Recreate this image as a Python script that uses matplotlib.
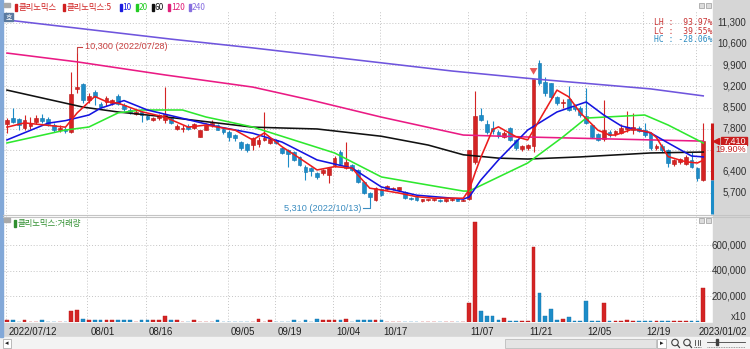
import numpy as np
import matplotlib
matplotlib.use('Agg')
import matplotlib.pyplot as plt
from matplotlib.patches import Rectangle, Ellipse
from matplotlib.lines import Line2D
from matplotlib.transforms import blended_transform_factory, ScaledTranslation

# ---- daily candles (index 0 = 2022/07/12) ----
opens = [7960, 8170, 8120, 7820, 7900, 8020, 8150, 8120, 7930, 7780,
         7800, 7710, 9120, 9280, 8750, 9030, 8620, 8700, 8650, 8890,
         8590, 8430, 8300, 8370, 8230, 8100, 8150, 8100, 8150, 7800,
         7790, 7900, 7830, 7550, 7770, 7930, 7930, 7800, 7710, 7600,
         7380, 7300, 7270, 7300, 7450, 7350, 7440, 7170, 7100, 7050,
         6890, 6560, 6500, 6340, 6340, 6280, 6610, 7050, 6510, 6610,
         6450, 6060, 5680, 5460, 5810, 5810, 5810, 5800, 5740, 5520,
         5560, 5430, 5450, 5460, 5460, 5420, 5460, 5520, 5440, 5480,
         6700, 8260, 7960, 7820, 7710, 7545, 7840, 7440, 7130, 7160,
         7240, 9980, 9360, 9300, 8860, 8660, 8780, 8560, 8500, 8220,
         7930, 7630, 7460, 7700, 7630, 7660, 7800, 7780, 7840, 7750,
         7660, 7180, 7250, 7110, 6650, 6700, 6650, 6780, 6500, 6120]
highs = [8150, 8500, 8150, 8260, 8200, 8250, 8300, 8180, 7990, 7930,
         7850, 9690, 10300, 9320, 9000, 9080, 8700, 8900, 8800, 8950,
         8650, 8480, 8420, 8400, 8260, 8200, 8300, 9190, 8200, 7950,
         7930, 7950, 8000, 7780, 8000, 8080, 7960, 7830, 7750, 7650,
         7420, 7350, 7520, 7550, 8370, 7520, 7480, 7200, 7150, 7080,
         6920, 6600, 6550, 6380, 6480, 6520, 6900, 7100, 7380, 6650,
         6480, 6100, 5720, 5900, 5850, 5950, 5900, 5900, 5760, 5550,
         5580, 5510, 5510, 5500, 5480, 5500, 5520, 5540, 5500, 7110,
         9060, 8480, 8100, 8050, 7760, 7720, 7880, 7480, 7260, 7300,
         9450, 10070, 9500, 9330, 8900, 8800, 9200, 8620, 8550, 9140,
         7980, 7680, 8750, 7750, 7780, 7950, 8400, 8320, 7900, 8000,
         7700, 7300, 7300, 7150, 6800, 6850, 6950, 7050, 6550, 7985]
lows = [7660, 7990, 7760, 7760, 7800, 7950, 8000, 7900, 7700, 7700,
        7660, 7660, 9000, 8650, 8650, 8590, 8480, 8550, 8600, 8600,
        8400, 8300, 8250, 8040, 8080, 8050, 8100, 8000, 7950, 7750,
        7700, 7780, 7800, 7520, 7750, 7880, 7750, 7650, 7400, 7400,
        7100, 7050, 7110, 7200, 7400, 7300, 7300, 6980, 6560, 6750,
        6580, 6120, 6250, 6150, 6300, 6010, 6550, 6600, 6480, 6400,
        6020, 5650, 5310, 5420, 5580, 5780, 5780, 5770, 5500, 5460,
        5430, 5410, 5430, 5440, 5400, 5400, 5440, 5420, 5420, 5450,
        6650, 8060, 7650, 7650, 7500, 7500, 7400, 7100, 7080, 7100,
        7050, 9250, 8900, 8800, 8600, 8480, 8380, 8400, 8200, 7950,
        7500, 7400, 7400, 7550, 7580, 7620, 7700, 7650, 7700, 7550,
        7100, 7100, 7050, 6550, 6580, 6650, 6600, 6500, 6100, 6100]
closes = [8095, 8020, 7930, 8095, 8000, 8150, 8070, 7960, 7760, 7820,
          7740, 8950, 9190, 8755, 8900, 8860, 8510, 8810, 8760, 8620,
          8450, 8350, 8370, 8260, 8120, 8160, 8260, 8290, 7990, 7900,
          7830, 7800, 7950, 7760, 7930, 8000, 7770, 7700, 7545, 7500,
          7160, 7100, 7490, 7450, 7500, 7480, 7340, 7010, 6990, 6780,
          6610, 6390, 6400, 6210, 6440, 6500, 6830, 6650, 6720, 6450,
          6060, 5680, 5570, 5850, 5620, 5920, 5870, 5880, 5520, 5480,
          5460, 5490, 5490, 5480, 5420, 5480, 5500, 5440, 5470, 7110,
          8230, 8100, 7710, 7740, 7570, 7680, 7440, 7160, 7240, 7270,
          9440, 9320, 8975, 8860, 8640, 8700, 8425, 8460, 8250, 7990,
          7545, 7440, 7760, 7590, 7730, 7820, 7880, 7860, 7740, 7600,
          7160, 7240, 7100, 6670, 6780, 6800, 6890, 6560, 6180, 7410]
volumes = [16000, 16000, 3000, 16000, 3000, 3000, 16000, 3000, 3000, 3000,
           3000, 88000, 95000, 22000, 12000, 12000, 12000, 12000, 12000, 12000,
           12000, 12000, 3000, 12000, 12000, 12000, 12000, 48000, 12000, 12000,
           3000, 3000, 12000, 3000, 3000, 3000, 12000, 3000, 3000, 3000,
           3000, 3000, 3000, 20000, 3000, 12000, 3000, 3000, 3000, 12000,
           3000, 12000, 3000, 20000, 12000, 12000, 12000, 12000, 26000, 3000,
           12000, 18000, 12000, 12000, 12000, 3000, 3000, 3000, 3000, 3000,
           3000, 3000, 3000, 3000, 3000, 3000, 3000, 3000, 3000, 147000,
           781000, 86000, 47000, 49000, 16000, 34000, 10000, 6000, 6000, 6000,
           586000, 230000, 47000, 100000, 16000, 21000, 42000, 10000, 11000, 167000,
           11000, 8000, 147000, 8000, 7000, 7000, 16000, 8000, 6000, 5000,
           5000, 5000, 5000, 6000, 5000, 5000, 5000, 7000, 8000, 264000]

# ---- moving average lines, sampled where they bend ----
ma5_at = [0, 3, 10, 12, 15, 17, 19, 23, 27, 31, 34, 39, 42, 44, 47, 50, 53, 56, 59, 60,
          62, 64, 67, 70, 73, 78, 79, 80, 81, 82, 83, 84, 87, 89, 90, 94, 96, 98, 101, 103,
          104, 107, 110, 111, 113, 116, 118, 119]
ma5 = [7860, 8000, 7860, 8330, 8870, 8700, 8650, 8370, 8190, 7860, 7930, 7760, 7440, 7670,
       7215, 6840, 6450, 6560, 6510, 6280, 5850, 5790, 5690, 5570, 5520, 5520, 5800, 6350,
       6870, 7320, 7780, 7870, 7545, 7440, 7765, 9080, 8860, 8330, 7760, 7600, 7600, 7800,
       7680, 7520, 6890, 6720, 6680, 6770]
ma10_at = [0, 7, 10, 14, 16, 20, 24, 30, 36, 42, 47, 53, 59, 64, 70, 78, 79, 81, 84, 89,
           94, 99, 102, 105, 110, 113, 117, 119]
ma10 = [7440, 7990, 8075, 8260, 8485, 8735, 8425, 8150, 7875, 7660, 7370, 6780, 6510, 5890,
        5620, 5490, 5560, 6120, 6780, 7765, 8360, 8690, 8260, 7900, 7670, 7340, 6910, 6880]
ma20_at = [0, 10, 14, 19, 23, 30, 34, 42, 56, 64, 70, 78, 79, 89, 95, 99, 109, 113, 119]
ma20 = [7340, 7765, 7865, 8330, 8425, 8425, 8195, 7865, 7010, 6220, 6020, 5755, 5755, 6680,
        7535, 8160, 8260, 7930, 7340]
ma60_at = [0, 13, 19, 27, 42, 53, 64, 72, 78, 84, 89, 98, 110, 119]
ma60 = [9080, 8520, 8360, 8200, 7860, 7800, 7560, 7270, 6950, 6840, 6810, 6880, 7010, 7040]
ma120_at = [0, 12, 27, 42, 52, 64, 78, 89, 110, 119]
ma120 = [10300, 10010, 9580, 9180, 8750, 8190, 7600, 7535, 7440, 7400]
ma240_at = [0, 28, 42, 76, 90, 110, 119]
ma240 = [11390, 10760, 10470, 9710, 9450, 9120, 8890]

date_ticks = [0, 14, 24, 38, 46, 56, 64, 79, 89, 99, 109, 118]
date_labels = ['2022/07/12', '08/01', '08/16', '09/05', '09/19', '10/04', '10/17',
               '11/07', '11/21', '12/05', '12/19', '2023/01/02']
price_ticks = [5700, 6400, 7100, 7800, 8500, 9200, 9900, 10600, 11300]
vol_ticks = [200000, 400000, 600000]

high_idx, high_val, high_date = 12, 10300, '2022/07/28'
low_idx, low_val, low_date = 62, 5310, '2022/10/13'
last_change = '19.90%'
stats = [('LH :  93.97%', '#c83232'), ('LC :  39.55%', '#c83232'), ('HC : -28.06%', '#2a8ac0')]

# ---- styling ----
W, H = 750, 349
RED, BLUE = '#d42424', '#1c8cc8'
NARROW = ['Liberation Sans Narrow', 'Liberation Sans', 'DejaVu Sans']
KR = ['Noto Sans CJK KR', 'DejaVu Sans']
MONO = ['DejaVu Sans Mono']
GRAY = '#d6d6d6'
LABEL = '#303030'


def fx(x):
    return x / W


def fy(y):
    return 1 - y / H


def p_of(ypx):
    # pixel row -> price, from the chart's own scale
    return 11300 - (ypx - 22.7) * 32.94


O, Hh, L, C = map(np.array, (opens, highs, lows, closes))
x = np.arange(len(C))
up = C >= O
cols = np.where(up, RED, BLUE)
edges = np.where(up, '#b81616', '#1476ae')

fig = plt.figure(figsize=(7.5, 3.49), dpi=100)
fig.patch.set_facecolor('white')

ax = fig.add_axes([fx(4), fy(214), fx(712) - fx(4), fy(11) - fy(214)])
axv = fig.add_axes([fx(4), fy(322), fx(712) - fx(4), fy(216) - fy(322)], sharex=ax)
for a in (ax, axv):
    for s in a.spines.values():
        s.set_visible(False)
    a.set_axisbelow(True)
    a.grid(True, ls=(0, (1, 2)), color='#c4c4c4', lw=0.7)

ax.set_xlim(-0.51, 120.5)
ax.set_ylim(5000, 11685)
axv.set_ylim(0, 831000)

# candles
ax.vlines(x, L, Hh, colors=cols, lw=0.8, zorder=3)
ax.bar(x, np.maximum(np.abs(C - O), 14), bottom=np.minimum(O, C), width=0.64,
       color=cols, edgecolor=edges, lw=0.4, zorder=4)

# moving averages
for at, vals, c in [(ma240_at, ma240, '#6f55dd'), (ma120_at, ma120, '#ea1a84'),
                    (ma60_at, ma60, '#111111'), (ma20_at, ma20, '#2ee82e'),
                    (ma10_at, ma10, '#1414e0'), (ma5_at, ma5, '#ec1c1c')]:
    ax.plot(at, vals, color=c, lw=1.15, zorder=5, solid_joinstyle='round')

# high / low annotations
top = p_of(46.7)
ax.plot([high_idx, high_idx, high_idx + 0.9], [high_val, top, top], color='#c84040', lw=0.8, zorder=6)
ax.text(high_idx + 1.3, top, f'{high_val:,} ({high_date})', color='#c84040', fontsize=6.6,
        family=NARROW, va='center', ha='left', zorder=6)
bot = p_of(208.3)
ax.plot([low_idx, low_idx, low_idx - 1.2], [low_val, bot, bot], color='#3a8cc0', lw=0.8, zorder=6)
ax.text(low_idx - 1.4, bot, f'{low_val:,} ({low_date})', color='#3a8cc0', fontsize=6.6,
        family=NARROW, va='center', ha='right', zorder=6)

# signal arrow above the 11/22 candle
ax.annotate('', xy=(90, p_of(77.5)), xytext=(90, p_of(70.5)),
            arrowprops=dict(arrowstyle='simple,head_width=0.7,head_length=0.6,tail_width=0.35',
                            color='#e85555', lw=0, mutation_scale=8), zorder=6)

ax.tick_params(axis='x', length=0, labelbottom=False)
ax.tick_params(axis='y', length=0, labelleft=False)
axv.tick_params(axis='y', length=0, labelleft=False)

# right-hand price and volume scales (grid from the ticks, labels in the grey column)
ax.set_yticks(price_ticks)
axv.set_yticks(vol_ticks)
pt = blended_transform_factory(fig.transFigure, ax.transData)
vt = blended_transform_factory(fig.transFigure, axv.transData)
for v in price_ticks:
    if v != 7100:   # hidden behind the last-price box
        fig.text(fx(746.5), v, f'{v:,}', transform=pt, ha='right', va='center',
                 fontsize=7, family=NARROW, color=LABEL)
for v in vol_ticks:
    fig.text(fx(746.5), v, f'{v:,}', transform=vt, ha='right', va='center',
             fontsize=7, family=NARROW, color=LABEL)
fig.text(fx(746.5), fy(317.5), 'x10', ha='right', va='center', fontsize=7, family=NARROW, color=LABEL)

# last price marker on the right edge
ax.vlines(120.45, O[-1], Hh[-1], color='#cc1a1a', lw=2.2, clip_on=False, zorder=7)
ax.vlines(120.45, 5000, O[-1], color='#1c8cc8', lw=2.2, clip_on=False, zorder=7)
ax.plot([121.15], [C[-1]], marker='<', ms=4.5, color='#cc1a1a', clip_on=False, zorder=7)


def frect(x0, y0, x1, y1, **kw):
    fig.patches.append(Rectangle((fx(x0), fy(y1)), fx(x1) - fx(x0), fy(y0) - fy(y1),
                                 transform=fig.transFigure, **kw))


# date axis
axv.set_xticks([d - 0.25 for d in date_ticks])
axv.set_xticklabels(date_labels)
axv.tick_params(axis='x', length=0, pad=3.6, labelsize=7, labelcolor='#202020')
shift = ScaledTranslation(0.03, 0, fig.dpi_scale_trans)
for t in axv.get_xticklabels():
    t.set_ha('left')
    t.set_fontfamily(NARROW)
    t.set_transform(t.get_transform() + shift)

# volume
axv.bar(x, volumes, width=0.64, color=cols, edgecolor=edges, lw=0.3, zorder=3)

# ---- frame decorations ----
frect(713, 0, 750, 337, color=GRAY, zorder=-1)
frect(3, 323, 750, 337, color=GRAY, zorder=-1)
frect(0, 337, 750, 349, color='#f3f3f3', zorder=-1)
frect(0, 0, 2.5, 337, color='#82a8d8', zorder=1)
for yy in (214.5, 216.5):
    fig.add_artist(Line2D([fx(3), fx(750)], [fy(yy), fy(yy)], color='#c4c4c4', lw=0.8))

# last price box
frect(721, 136.6, 747, 144.6, color='#c81e1e', zorder=3)
frect(721, 144.6, 747, 153, facecolor='white', edgecolor='none', zorder=3)
fig.text(fx(746), fy(140.9), f'{C[-1]:,}', ha='right', va='center', color='white',
         fontsize=6.5, family=NARROW, zorder=4)
fig.text(fx(746), fy(149.0), last_change, ha='right', va='center', color='#c81e1e',
         fontsize=6.5, family=NARROW, zorder=4)

# panel legends
frect(4, 3, 10, 7, color='#a9a9a9', zorder=2)
legend = [('클리노믹스', '#d02020', 15), ('클리노믹스:5', '#d02020', 63), ('10', '#1c1ce0', 119.5),
          ('20', '#22cc22', 135.5), ('60', '#111111', 151.5), ('120', '#e0207a', 168),
          ('240', '#8870e0', 188.5)]
for name, c, lx in legend:
    frect(lx, 4.5, lx + 2, 10.5, color=c, zorder=2)
    fig.text(fx(lx + 3.2), fy(7.8), name, color=c, fontsize=6, family=KR, va='center', ha='left')
frect(4, 12.7, 12.7, 20.7, color='#5a7aa0', zorder=2)
fig.text(fx(8.35), fy(16.8), '호', color='white', fontsize=5, family=KR, va='center', ha='center')

frect(4, 218, 10, 221.5, color='#a9a9a9', zorder=2)
frect(14, 220.5, 16, 226.5, color='#2f8f2f', zorder=2)
fig.text(fx(17.5), fy(223.6), '클리노믹스:거래량', color='#2f8f2f', fontsize=6, family=KR,
         va='center', ha='left')

for i, (txt, c) in enumerate(stats):
    fig.text(fx(654), fy(22.7 + 8.4 * i), txt, color=c, fontsize=5.8, family=MONO,
             va='center', ha='left')

# small window buttons
for by in (3.3, 218.3):
    for bx in (698.5, 705.5):
        frect(bx, by, bx + 5.5, by + 5, facecolor='#dcdcdc', edgecolor='#9a9a9a', lw=0.5, zorder=2)

# bottom scroll bar
frect(2.5, 339, 10.5, 347.5, facecolor='white', edgecolor='#a0a0a0', lw=0.5, zorder=2)
fig.text(fx(6.5), fy(343.2), '◂', fontsize=5, ha='center', va='center', color='#202020')
frect(505, 339, 656, 348, facecolor='#e4e4e4', edgecolor='#b4b4b4', lw=0.5, zorder=2)
frect(657, 339, 666, 348, facecolor='white', edgecolor='#a0a0a0', lw=0.5, zorder=2)
fig.text(fx(661.5), fy(343.5), '▸', fontsize=5, ha='center', va='center', color='#202020')
for cx in (675, 687):
    fig.patches.append(Ellipse((fx(cx), fy(342.5)), fx(6.5), 6.5 / H, transform=fig.transFigure,
                               fill=False, edgecolor='#404040', lw=0.8))
    fig.add_artist(Line2D([fx(cx + 2.5), fx(cx + 4.5)], [fy(345), fy(347.5)], color='#404040', lw=0.9))
for lx in (695, 697.5, 700):
    fig.add_artist(Line2D([fx(lx), fx(lx)], [fy(339.5), fy(345)], color='#404040', lw=0.6))
fig.add_artist(Line2D([fx(694), fx(701)], [fy(347), fy(347)], color='#404040', lw=0.6, ls=(0, (1, 1))))
fig.add_artist(Line2D([fx(707), fx(745)], [fy(341.5), fy(341.5)], color='#404040', lw=0.6))
fig.add_artist(Line2D([fx(707), fx(745)], [fy(347), fy(347)], color='#808080', lw=0.6, ls=(0, (1, 1))))
frect(716, 339, 718, 344.5, color='#404040', zorder=2)

fig.savefig('out.png', dpi=100)
